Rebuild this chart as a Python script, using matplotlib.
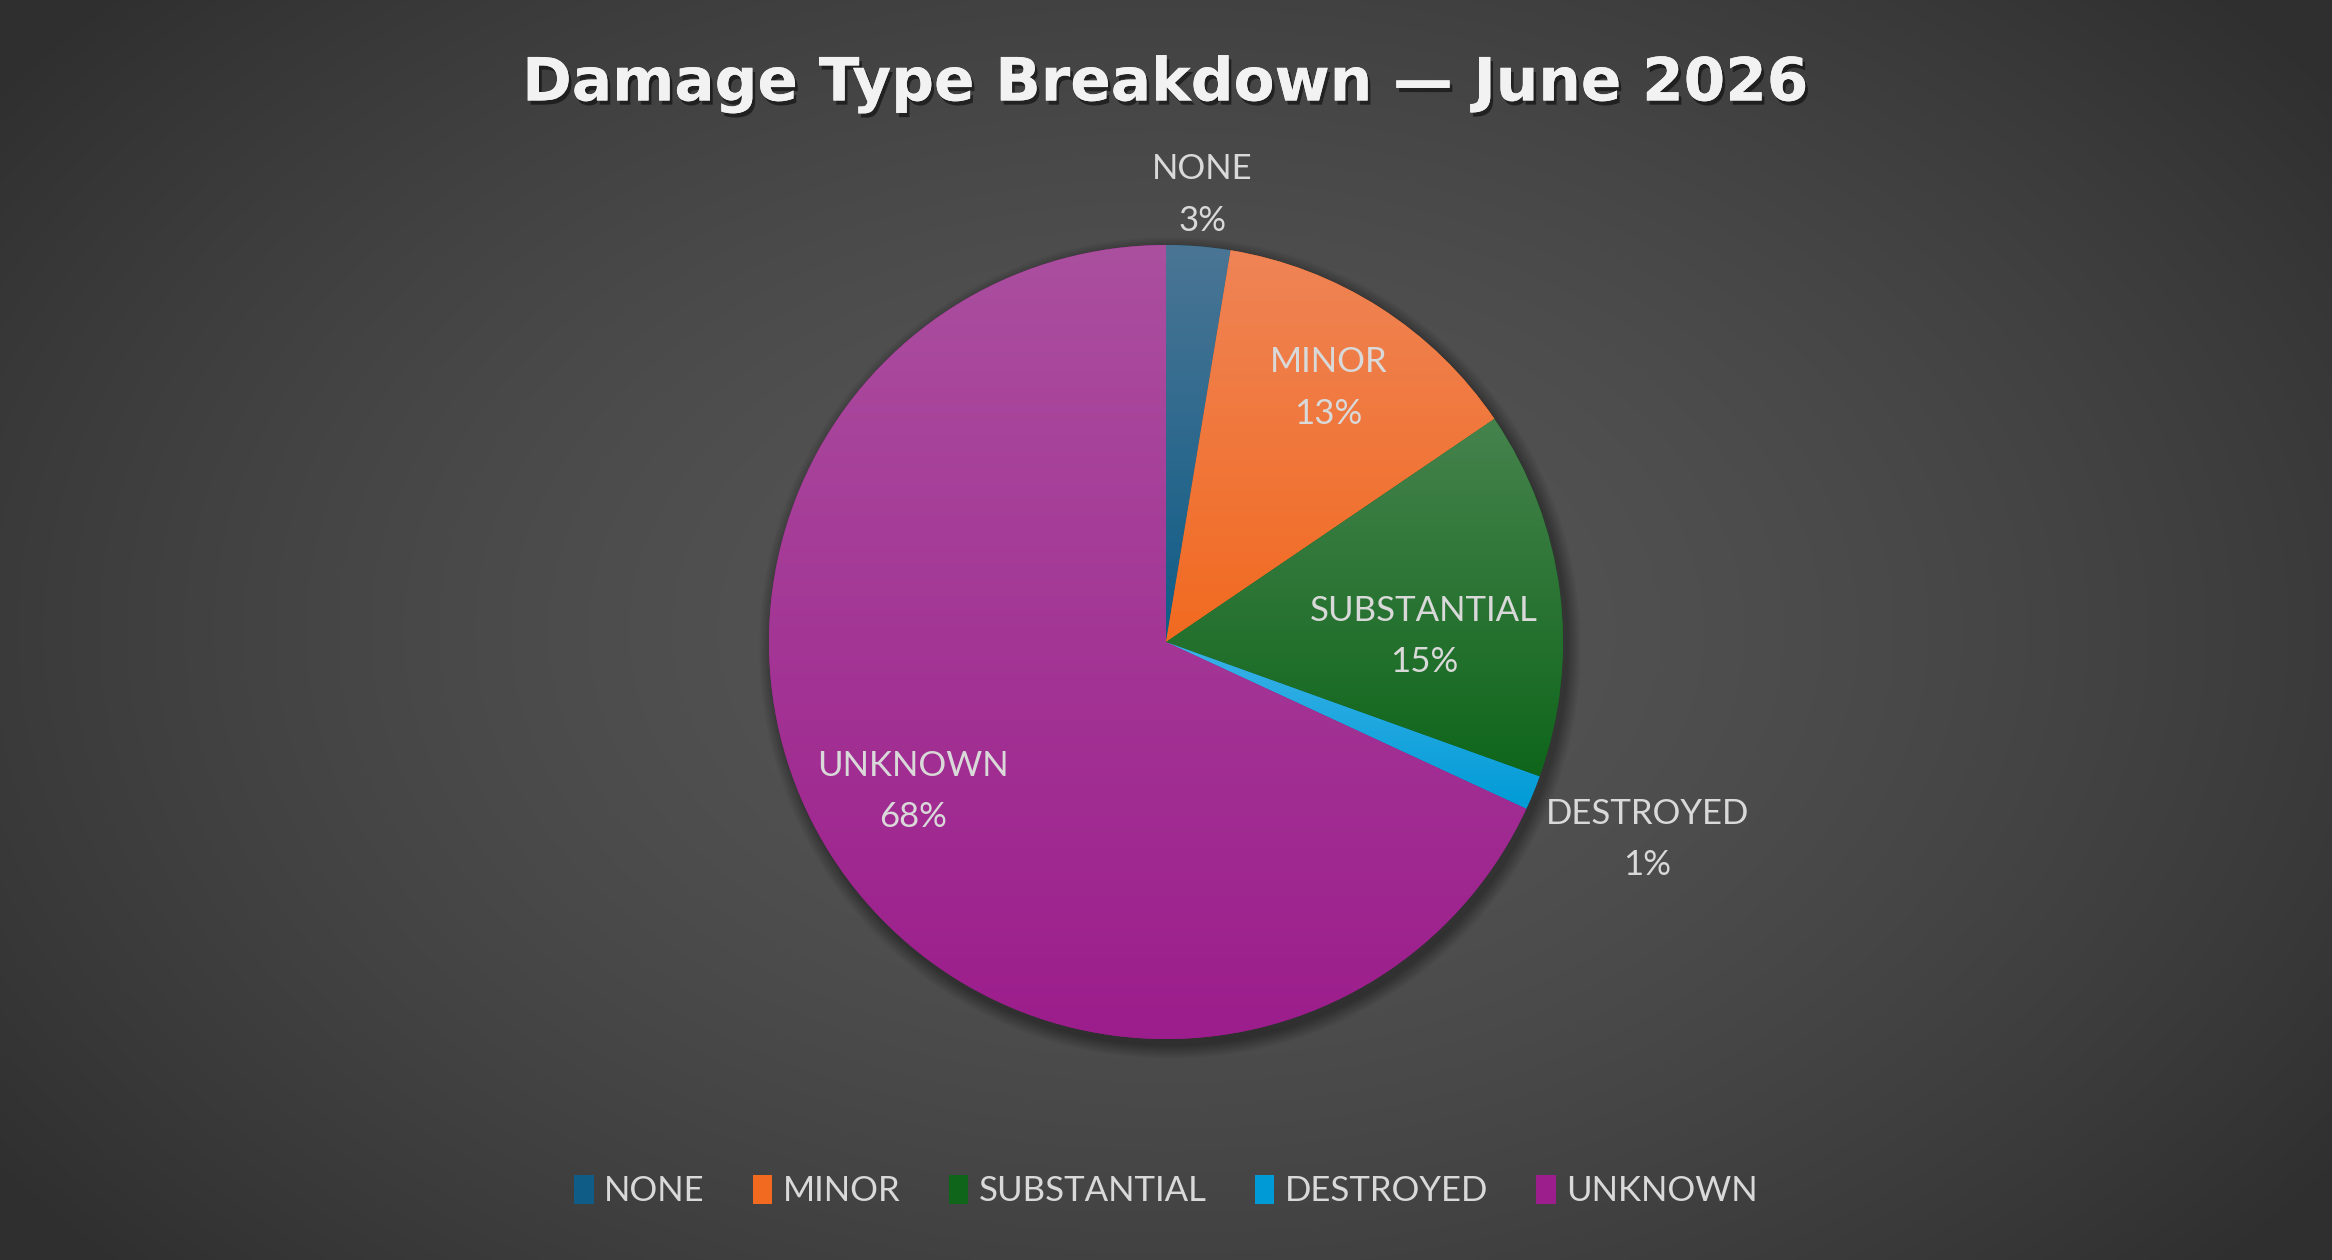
import numpy as np
import matplotlib
matplotlib.use("Agg")
import matplotlib.pyplot as plt
from matplotlib.patches import Patch, Circle
from matplotlib.colors import to_rgb
import matplotlib.patheffects as pe

# data
categories = ["NONE", "MINOR", "SUBSTANTIAL", "DESTROYED", "UNKNOWN"]
shares = [2.6, 12.9, 15.0, 1.4, 68.1]
top_colors = ["#4b7594", "#ef8456", "#46834d", "#3cb2e8", "#ab4f9f"]
base_colors = ["#0f5d87", "#f26a20", "#0f661b", "#009bd6", "#9c1d8c"]
# label placement (radius fraction, angle nudge in degrees)
label_dist = [1.13, 0.76, 0.65, 1.31, 0.74]
label_nudge = [0, 0, -6, 0, -2]

title = "Damage Type Breakdown \u2014 June 2026"
W, H = 2332, 1260
DPI = 100

fig = plt.figure(figsize=(W / DPI, H / DPI), dpi=DPI)

# background radial gradient
bg = fig.add_axes([0, 0, 1, 1])
yy, xx = np.mgrid[0:H, 0:W]
r = np.sqrt(((xx - W / 2) / (W * 0.62)) ** 2 + ((yy - H / 2) / (H * 0.75)) ** 2)
r = np.clip(r, 0, 1)
c_in, c_out = 0x56 / 255, 0x2f / 255
val = c_in + (c_out - c_in) * r ** 1.6
bg.imshow(np.dstack([val, val, val]), extent=(0, W, 0, H), aspect="auto")
bg.set_xlim(0, W)
bg.set_ylim(0, H)
bg.axis("off")

# pie axes in pixel coordinates
ax = fig.add_axes([0, 0, 1, 1])
ax.set_aspect("equal")
ax.patch.set_alpha(0)

cx, cy, R = 1166, 618, 397

# soft shadow
for k in range(14):
    ax.add_patch(Circle((cx + 4, cy - 6), R + 14 - k, color="black",
                        alpha=0.022, lw=0, zorder=1))

wedges, _ = ax.pie(shares, colors=base_colors, startangle=90, counterclock=False,
                   center=(cx, cy), radius=R, frame=True,
                   wedgeprops=dict(linewidth=0, zorder=2))

# vertical gradient per slice
for w, ctop, cbot in zip(wedges, top_colors, base_colors):
    ext = w.get_path().get_extents()
    t = np.linspace(0, 1, 256)[:, None]
    a = np.array(to_rgb(ctop))
    b = np.array(to_rgb(cbot))
    grad = a[None, None, :] * (1 - t[..., None]) + b[None, None, :] * t[..., None]
    grad = np.repeat(grad, 2, axis=1)
    im = ax.imshow(grad, extent=(ext.x0, ext.x1, ext.y0, ext.y1),
                   aspect="auto", zorder=3, interpolation="bilinear")
    im.set_clip_path(w)
ax.set_xlim(0, W)
ax.set_ylim(0, H)
ax.axis("off")

# data labels
lbl_font = "Lato"
for w, name, v, d, nud in zip(wedges, categories, shares, label_dist, label_nudge):
    ang = np.deg2rad((w.theta1 + w.theta2) / 2 + nud)
    x = cx + d * R * np.cos(ang)
    y = cy + d * R * np.sin(ang)
    ax.text(x, y, f"{name}\n{v:.0f}%", ha="center", va="center",
            fontsize=25, color="#d9d9d9", family=lbl_font,
            linespacing=1.75, zorder=5)

# title
fig.text(0.5, 1 - 84 / H, title, ha="center", va="center",
         fontsize=43, fontweight="bold", color="#f2f2f2",
         family="DejaVu Sans",
         path_effects=[pe.withSimplePatchShadow(offset=(2, -3), shadow_rgbFace="black", alpha=0.5),
                       pe.Normal()])

# legend
handles = [Patch(facecolor=c, edgecolor="none") for c in base_colors]
leg = fig.legend(handles, categories, loc="center", bbox_to_anchor=(0.5, 1 - 1191 / H),
                 ncol=5, frameon=False, handlelength=0.55, handleheight=0.9,
                 handletextpad=0.3, columnspacing=1.4,
                 prop={"family": lbl_font, "size": 25})
for txt in leg.get_texts():
    txt.set_color("#d9d9d9")

fig.savefig("out.png", dpi=DPI)
